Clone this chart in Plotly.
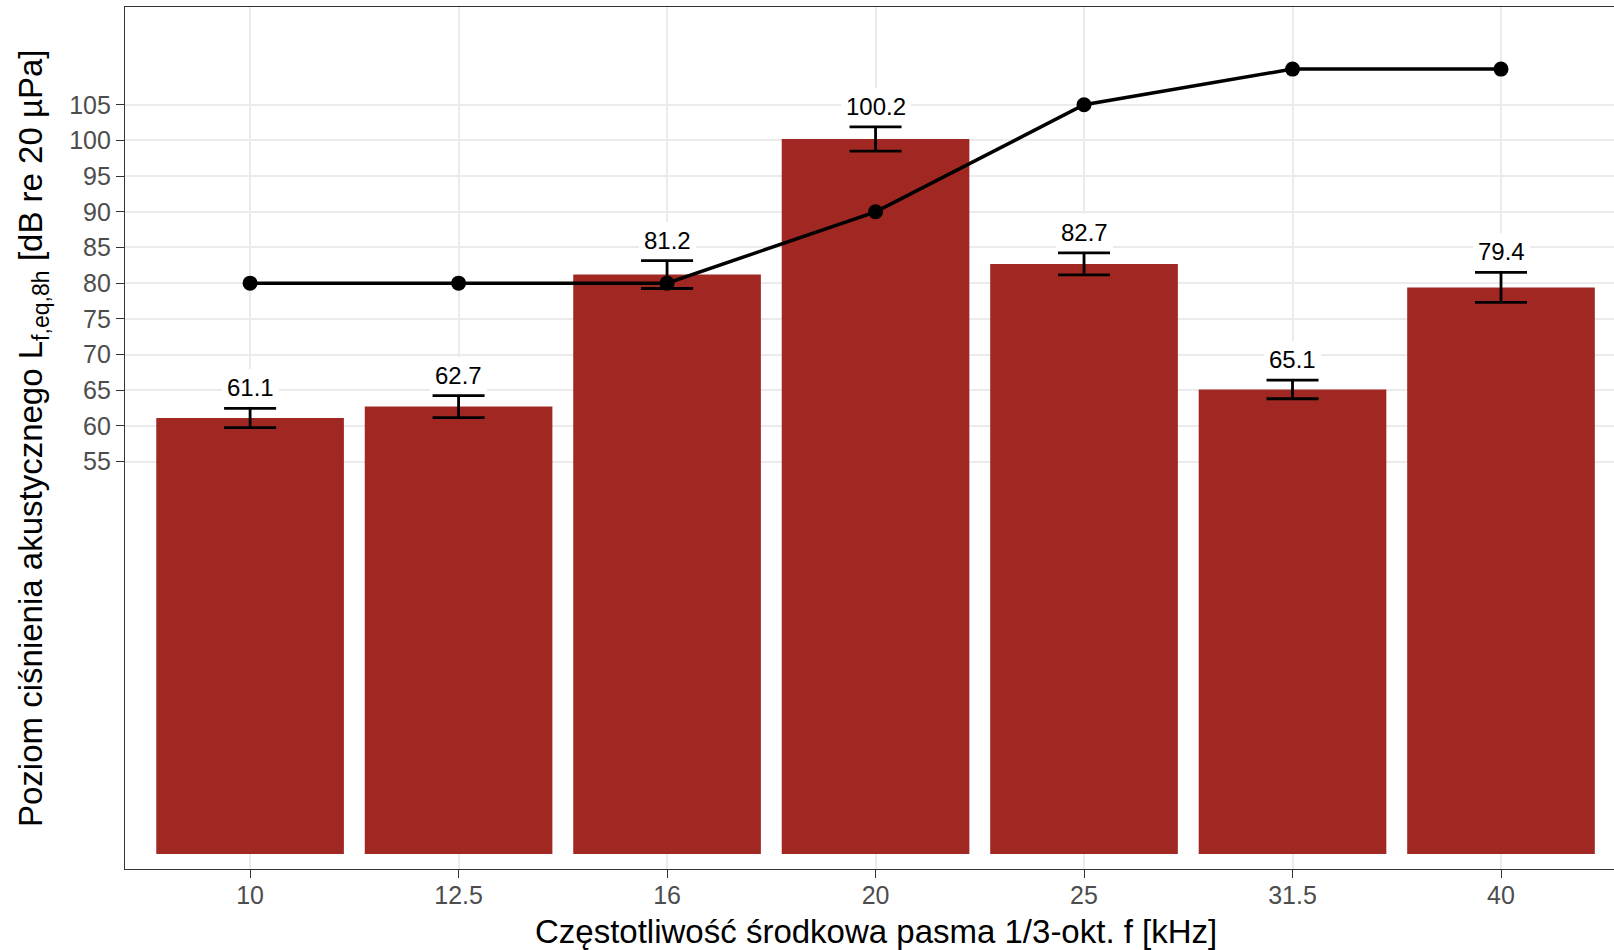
import plotly.graph_objects as go

categories = ["10", "12.5", "16", "20", "25", "31.5", "40"]
levels = [61.1, 62.7, 81.2, 100.2, 82.7, 65.1, 79.4]
errors = [1.35, 1.55, 1.95, 1.7, 1.55, 1.3, 2.1]
limit_line = [80, 80, 80, 90, 105, 110, 110]
y_ticks = [55, 60, 65, 70, 75, 80, 85, 90, 95, 100, 105]

FONT = "Liberation Sans, Arial, Helvetica, sans-serif"
BAR_COLOR = "#A12822"

W, H = 1614, 950
L, R, T, B = 125, 0, 7, 81  # panel: x 125..1614 (clipped), y 7..869
PW, PH = W - L - R, H - T - B

fig = go.Figure()
fig.add_trace(go.Bar(
    x=categories, y=levels, width=0.9,
    marker=dict(color=BAR_COLOR, line=dict(width=0)),
    error_y=dict(type="data", array=errors, visible=True,
                 color="black", thickness=2.8, width=26),
    showlegend=False, hoverinfo="skip",
))
fig.add_trace(go.Scatter(
    x=categories, y=limit_line, mode="lines+markers",
    line=dict(color="black", width=3.5),
    marker=dict(color="black", size=15),
    showlegend=False,
))

for i, (v, e) in enumerate(zip(levels, errors)):
    fig.add_annotation(
        x=i, y=v + e, xref="x", yref="y", text=f"{v:.1f}",
        showarrow=False, yanchor="bottom", xanchor="center",
        bgcolor="white", borderpad=5, borderwidth=0, yshift=2,
        font=dict(family=FONT, size=24, color="black"),
    )

# x-axis title (centred on the full, partly clipped panel)
fig.add_annotation(
    x=(875.5 - L) / PW, y=-(931 - (T + PH)) / PH, xref="paper", yref="paper",
    text="Częstotliwość środkowa pasma 1/3-okt. f [kHz]",
    showarrow=False, xanchor="center", yanchor="middle",
    font=dict(family=FONT, size=33, color="black"),
)
# y-axis title
fig.add_annotation(
    x=(33 - L) / PW, y=0.5, xref="paper", yref="paper",
    text="Poziom ciśnienia akustycznego L<sub>f,eq,8h</sub> [dB re 20 µPa]",
    showarrow=False, xanchor="center", yanchor="middle", textangle=-90,
    font=dict(family=FONT, size=33, color="black"),
)

fig.update_layout(
    width=W, height=H,
    margin=dict(l=L, r=R, t=T, b=B, autoexpand=False),
    paper_bgcolor="white", plot_bgcolor="white",
    xaxis=dict(
        type="category", range=[-0.6, 6.542],
        showgrid=True, gridcolor="#EBEBEB", gridwidth=2,
        showline=True, mirror=True, linecolor="#333333", linewidth=1.2,
        ticks="outside", ticklen=8, tickwidth=1.4, tickcolor="#333333",
        tickfont=dict(family=FONT, size=25, color="#4D4D4D"),
        ticklabelstandoff=-4,
        zeroline=False,
    ),
    yaxis=dict(
        range=[-2.1, 118.7], tickvals=y_ticks,
        showgrid=True, gridcolor="#EBEBEB", gridwidth=2,
        showline=True, mirror=False, linecolor="#333333", linewidth=1.2,
        ticks="outside", ticklen=8, tickwidth=1.4, tickcolor="#333333",
        tickfont=dict(family=FONT, size=25, color="#4D4D4D"),
        zeroline=False,
    ),
)

fig.write_html(
    "out.html",
    config={"displayModeBar": False},
    post_script="document.body.style.margin='0';document.body.style.overflow='hidden';",
)
